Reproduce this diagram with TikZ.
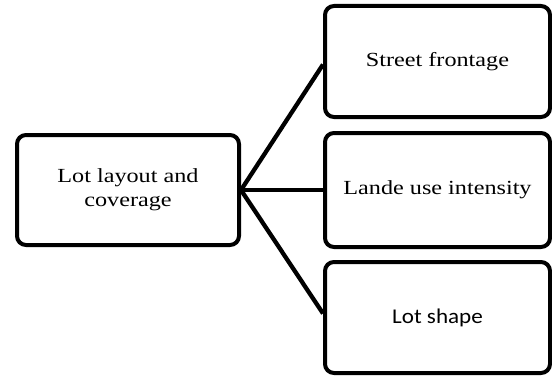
\documentclass[tikz,border=0pt]{standalone}
\usepackage{fontspec}
\setmainfont{Liberation Serif}[FakeStretch=1.21]
\newfontfamily\sansw{Carlito}[FakeStretch=1.1]
\begin{document}
\begin{tikzpicture}[x=1pt,y=1pt,
  box/.style={draw=black, line width=4pt, rounded corners=9pt, fill=white,
    minimum width=#1, align=center, inner sep=0pt,
    font=\fontsize{20}{24}\selectfont},
  box/.default=222pt,
  link/.style={draw=black, line width=4.3pt}]
\useasboundingbox[fill=white] (0,0) rectangle (552,376);
\node[box=222pt, minimum height=110pt] (lot) at (128,186) {Lot layout and\\coverage};
\node[box=225pt, minimum height=111pt] (street) at (437.5,314.5) {Street frontage};
\node[box=225pt, minimum height=114pt] (land) at (437.5,186) {Lande use intensity};
\node[box=225pt, minimum height=111pt, font=\sansw\fontsize{21}{24}\selectfont] (shape) at (437.5,58.5) {Lot shape};
\draw[link] (lot.east) -- ([yshift=-3pt]street.west);
\draw[link] (lot.east) -- (land.west);
\draw[link] (lot.east) -- ([yshift=4pt]shape.west);
\end{tikzpicture}
\end{document}
